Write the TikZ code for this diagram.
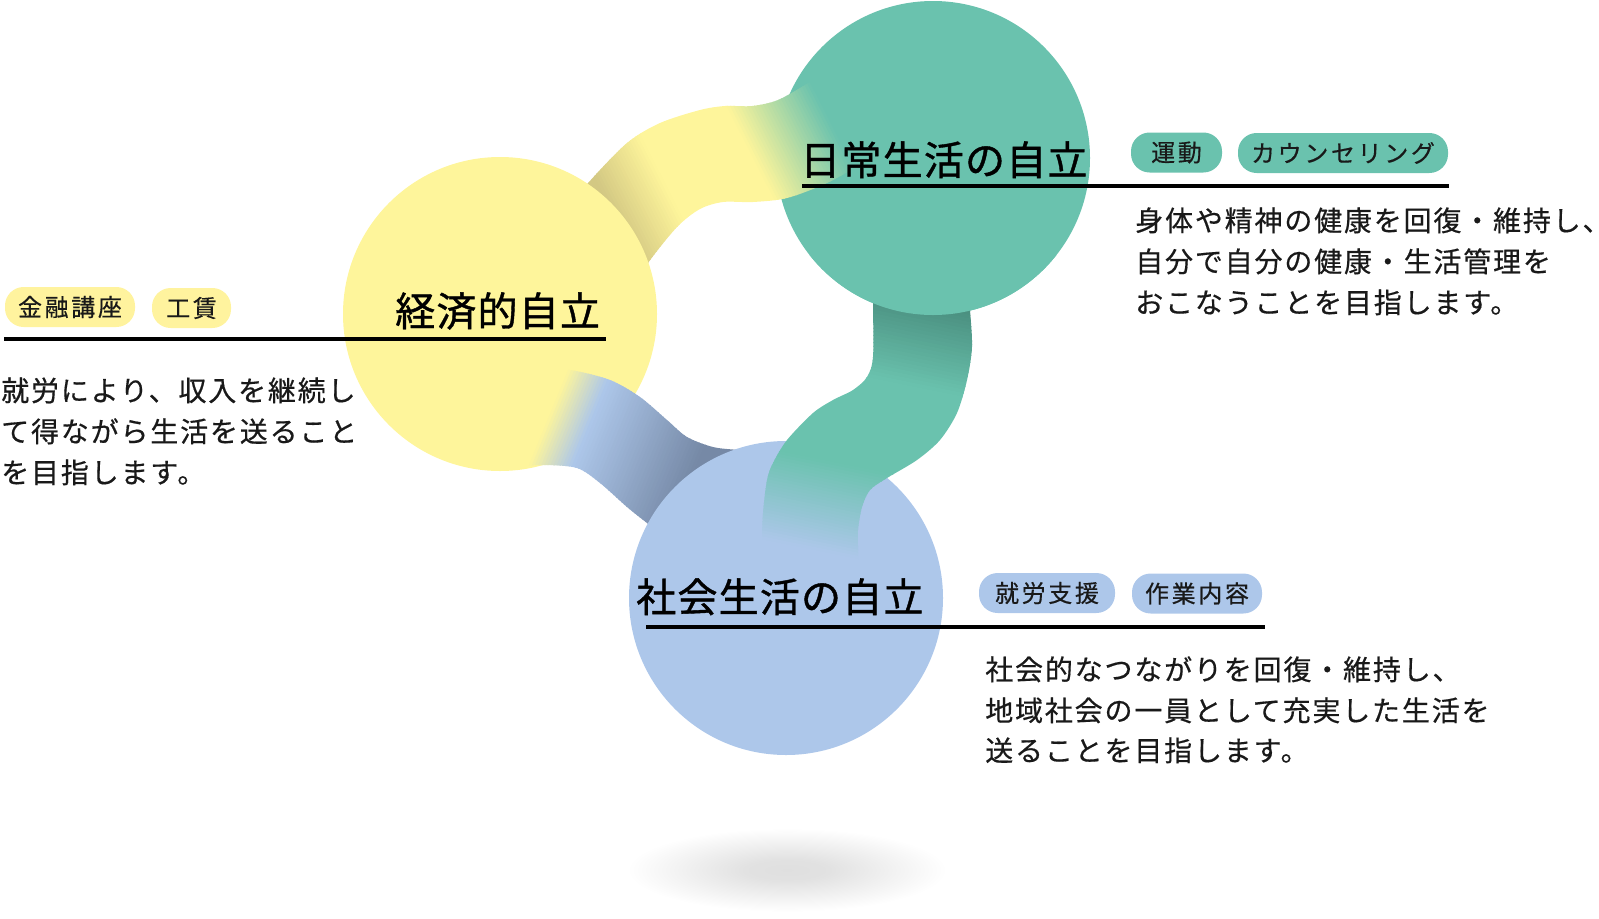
\documentclass[tikz,border=0pt]{standalone}
\usepackage{fontspec}
\newfontfamily\jptitle[LetterSpace=3,FakeBold=1]{Noto Sans CJK JP}
\newfontfamily\jpbody[LetterSpace=6.5,FakeBold=0.5]{Noto Sans CJK JP}
\newfontfamily\jptag[LetterSpace=11,FakeBold=0.4]{Noto Sans CJK JP}
\definecolor{yel}{HTML}{FEF59B}
\definecolor{grn}{HTML}{6AC2AE}
\definecolor{blu}{HTML}{ADC7EA}
\definecolor{ygdark}{HTML}{D3C883}
\definecolor{gbdark}{HTML}{4A8F7F}
\definecolor{ybdark}{HTML}{7689A6}
\definecolor{pillyel}{HTML}{FFF39E}
\pgfdeclareradialshading{shadowsh}{\pgfpoint{0bp}{0bp}}{rgb(0bp)=(0.875,0.875,0.875); rgb(6bp)=(0.885,0.885,0.885); rgb(23bp)=(1,1,1); rgb(50bp)=(1,1,1)}
\newcommand\gseg[5]{%
  \foreach \k in {1,...,#5}{%
    \pgfmathsetmacro\sA{#1+(#2-#1)*(\k-1)/#5}%
    \pgfmathsetmacro\sB{#1+(#2-#1)*\k/#5+1}%
    \pgfmathsetmacro\pc{100*(\k-0.5)/#5}%
    \fill[#4!\pc!#3] (\sA,-260) rectangle (\sB,260);
  }}
\tikzset{
  titletext/.style={anchor=base west, inner sep=0pt, font=\jptitle\fontsize{30}{30}\selectfont, text=black},
  bodytext/.style={anchor=base west, inner sep=0pt, font=\jpbody\fontsize{21}{21}\selectfont, text=black!90},
  pill/.style={rounded corners=14pt, inner sep=0pt, minimum height=30pt, font=\jptag\fontsize{18}{18}\selectfont, text=black!90},
  uline/.style={line width=2.3pt, black}
}
\begin{document}
\begin{tikzpicture}[x=0.75pt,y=-0.75pt]
\useasboundingbox (0,0) rectangle (1599,918);
% floor shadow
\shade[shading=shadowsh] (787,870) ellipse (130pt and 34pt);
% circle centres
\coordinate (cg) at (933,158);
\coordinate (cy) at (500,314);
\coordinate (cb) at (786,598);
\fill[grn] (cg) circle (117.75pt);
% band yellow-green (behind yellow, over green)
\begin{scope}
\clip plot[smooth] coordinates {(555,222) (588,183) (627,143) (660,123) (700,110) (725,106) (752,106) (778,100) (810,82) (845,60) (870,45)} -- plot[smooth] coordinates {(900,135) (862,163) (827,183) (787,198) (753,202) (723,202) (700,209) (677,227) (648,263) (625,300)} -- cycle;
\begin{scope}[shift={(618,223)},rotate=27]
\gseg{-90}{0}{ygdark}{ygdark}{1}
\gseg{0}{60}{ygdark}{yel}{20}
\gseg{60}{150}{yel}{yel}{1}
\gseg{150}{235}{yel}{grn}{28}
\gseg{235}{360}{grn}{grn}{1}
\end{scope}
\end{scope}
% yellow circle
\fill[yel] (cy) circle (117.75pt);
% band yellow-blue (over yellow, behind blue)
\begin{scope}
\clip plot[smooth] coordinates {(500,372) (530,368) (570,370) (610,380) (640,397) (667,420) (687,437) (713,447) (740,450) (775,452)} -- plot[smooth] coordinates {(760,540) (690,545) (660,533) (647,523) (627,507) (600,483) (577,468) (543,465) (510,467)} -- cycle;
\begin{scope}[shift={(520,395)},rotate=-22.4]
\gseg{-120}{35}{yel}{yel}{1}
\gseg{35}{75}{yel}{blu}{14}
\gseg{75}{190}{blu}{ybdark}{35}
\gseg{190}{420}{ybdark}{ybdark}{1}
\end{scope}
\end{scope}
% blue circle
\fill[blu] (cb) circle (117.75pt);
% band green-blue (behind green, over blue)
\begin{scope}
\clip plot[smooth] coordinates {(873,285) (873,303) (873,357) (867,377) (853,390) (833,400) (813,413) (787,440) (773,463) (767,480) (763,513) (762,540) (762,585)} -- plot[smooth] coordinates {(858,585) (858,547) (858,530) (862,507) (870,490) (887,478) (917,460) (940,440) (957,413) (967,380) (972,347) (970,310) (968,285)} -- cycle;
\begin{scope}[shift={(915,300)},rotate=-101.5]
\gseg{-120}{0}{gbdark}{gbdark}{1}
\gseg{0}{85}{gbdark}{grn}{24}
\gseg{85}{175}{grn}{grn}{1}
\gseg{175}{265}{grn}{blu}{30}
\gseg{265}{420}{blu}{blu}{1}
\end{scope}
\end{scope}
% green circle again over the top of the green-blue band
\begin{scope}
\clip (700,255) rectangle (1120,330);
\fill[grn] (cg) circle (117.75pt);
\end{scope}
% underlines
\coordinate (ly1) at (4,339);
\coordinate (ly2) at (606,339);
\coordinate (lg1) at (802,186);
\coordinate (lg2) at (1449,186);
\coordinate (lb1) at (646,627);
\coordinate (lb2) at (1265,627);
\draw[uline] (ly1) -- (ly2);
\draw[uline] (lg1) -- (lg2);
\draw[uline] (lb1) -- (lb2);
% titles
\node[titletext] (ty) at (395,326) {経済的自立};
\node[titletext] (tg) at (800,175) {日常生活の自立};
\node[titletext] (tb) at (636,612) {社会生活の自立};
% tags
\node[pill, fill=pillyel, minimum width=97.5pt] (p1) at (70,307) {金融講座};
\node[pill, fill=pillyel, minimum width=59.25pt] (p2) at (191.5,308) {工賃};
\node[pill, fill=grn, minimum width=68.25pt] (p3) at (1176.5,152.5) {運動};
\node[pill, fill=grn, minimum width=157.5pt] (p4) at (1343,153) {カウンセリング};
\node[pill, fill=blu, minimum width=102pt] (p5) at (1047,593) {就労支援};
\node[pill, fill=blu, minimum width=97.5pt] (p6) at (1197,593.5) {作業内容};
% paragraphs
\node[bodytext] (y1) at (1,401) {就労により、収入を継続し};
\node[bodytext] (y2) at (1,442) {て得ながら生活を送ること};
\node[bodytext] (y3) at (1,483) {を目指します。};
\node[bodytext] (g1) at (1135,231) {身体や精神の健康を回復・維持し、};
\node[bodytext] (g2) at (1135,272) {自分で自分の健康・生活管理を};
\node[bodytext] (g3) at (1135,313) {おこなうことを目指します。};
\node[bodytext] (b1) at (985,680) {社会的なつながりを回復・維持し、};
\node[bodytext] (b2) at (985,721) {地域社会の一員として充実した生活を};
\node[bodytext] (b3) at (985,761) {送ることを目指します。};
\end{tikzpicture}
\end{document}
